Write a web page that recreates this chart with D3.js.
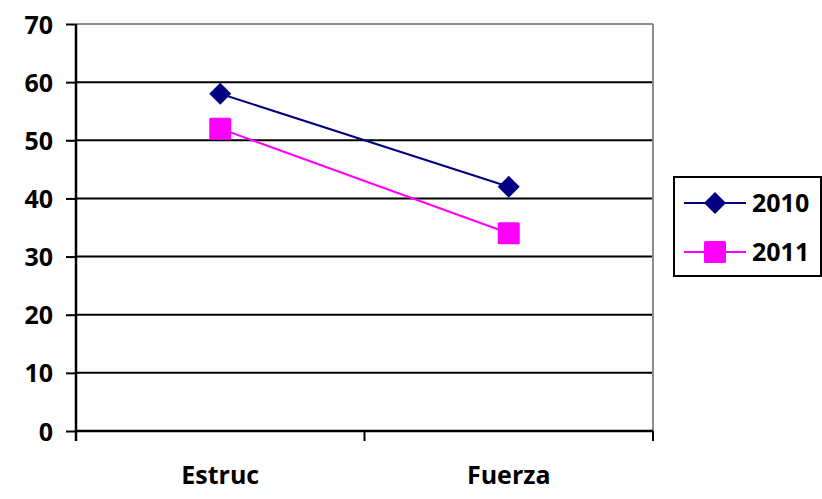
<!DOCTYPE html>
<html><head><meta charset="utf-8">
<script src="https://cdn.jsdelivr.net/npm/d3@7"></script>
<style>body{margin:0;background:#fff}svg{display:block}text{font-family:"Open Sans",sans-serif;font-weight:bold;fill:#000}</style>
</head><body><svg id="c" width="822" height="499"></svg>
<script>
const categories = ["Estruc", "Fuerza"];
const series2010 = [58, 42];
const series2011 = [52, 34];
const yTicks = [0, 10, 20, 30, 40, 50, 60, 70];
const seriesNames = ["2010", "2011"];

const svg = d3.select("#c");
const L = 76, R = 653, T = 24, B = 431;
const FS = 25;
const x = d3.scaleBand().domain(categories).range([L, R]);
const y = d3.scaleLinear().domain([0, 70]).range([B, T]);

// gridlines
svg.append("g").selectAll("line").data(yTicks.filter(d => d > 0 && d < 70)).join("line")
  .attr("x1", L).attr("x2", R).attr("y1", d => y(d)).attr("y2", d => y(d))
  .attr("stroke", "#000").attr("stroke-width", 2);
// top and right border
svg.append("line").attr("x1", L).attr("x2", R).attr("y1", y(70)).attr("y2", y(70)).attr("stroke", "#8c8c8c").attr("stroke-width", 2);
svg.append("line").attr("x1", R).attr("x2", R).attr("y1", y(70)).attr("y2", B).attr("stroke", "#8c8c8c").attr("stroke-width", 2);

// y axis
const ya = d3.axisLeft(y).tickValues(yTicks).tickSize(10).tickPadding(13);
const gy = svg.append("g").attr("transform", `translate(${L},0)`).call(ya);
gy.select(".domain").attr("stroke", "#000").attr("stroke-width", 2.5).attr("d", `M0,${T}V${B + 10}`);
gy.selectAll(".tick line").attr("stroke", "#000").attr("stroke-width", 2);
gy.selectAll(".tick text").attr("font-size", FS).attr("font-family", "Open Sans").attr("font-weight", "bold").attr("fill", "#000").attr("dy", "0.36em");

// x axis
const xa = d3.axisBottom(x).tickSize(0).tickPadding(28);
const gx = svg.append("g").attr("transform", `translate(0,${B})`).call(xa);
gx.select(".domain").attr("stroke", "#000").attr("stroke-width", 2.5).attr("d", `M${L},0H${R}`);
gx.selectAll(".tick text").attr("font-size", FS).attr("font-family", "Open Sans").attr("font-weight", "bold").attr("fill", "#000").attr("dy", "1em");
// boundary ticks
const bounds = [L, x(categories[1]), R];
gx.append("g").selectAll("line").data(bounds).join("line")
  .attr("x1", d => d).attr("x2", d => d).attr("y1", 0).attr("y2", 10)
  .attr("stroke", "#000").attr("stroke-width", 2);

const cx = c => x(c) + x.bandwidth() / 2;
const line = d3.line().x((d, i) => cx(categories[i])).y(d => y(d));

svg.append("path").datum(series2011).attr("d", line).attr("fill", "none").attr("stroke", "#ff00ff").attr("stroke-width", 2);
svg.append("path").datum(series2010).attr("d", line).attr("fill", "none").attr("stroke", "#000080").attr("stroke-width", 2);

svg.append("g").selectAll("rect").data(series2011).join("rect")
  .attr("x", (d, i) => cx(categories[i]) - 11).attr("y", d => y(d) - 11)
  .attr("width", 22).attr("height", 22).attr("rx", 1.5).attr("fill", "#ff00ff");
const diamond = "M0,-11L11,0L0,11L-11,0Z";
svg.append("g").selectAll("path").data(series2010).join("path")
  .attr("transform", (d, i) => `translate(${cx(categories[i])},${y(d)})`)
  .attr("d", diamond).attr("fill", "#000080");

// legend
const lg = svg.append("g");
lg.append("rect").attr("x", 674).attr("y", 177).attr("width", 147).attr("height", 99)
  .attr("fill", "#fff").attr("stroke", "#000").attr("stroke-width", 2);
const lrows = [{name: seriesNames[0], color: "#000080", y: 203, shape: "d"}, {name: seriesNames[1], color: "#ff00ff", y: 252, shape: "s"}];
lrows.forEach(r => {
  lg.append("line").attr("x1", 684).attr("x2", 746).attr("y1", r.y).attr("y2", r.y).attr("stroke", r.color).attr("stroke-width", 2);
  if (r.shape === "d") lg.append("path").attr("transform", `translate(715,${r.y})`).attr("d", diamond).attr("fill", r.color);
  else lg.append("rect").attr("x", 704).attr("y", r.y - 11).attr("width", 22).attr("height", 22).attr("rx", 1.5).attr("fill", r.color);
  lg.append("text").attr("x", 752).attr("y", r.y).attr("dy", "0.36em").attr("font-size", FS).text(r.name);
});
</script></body></html>
